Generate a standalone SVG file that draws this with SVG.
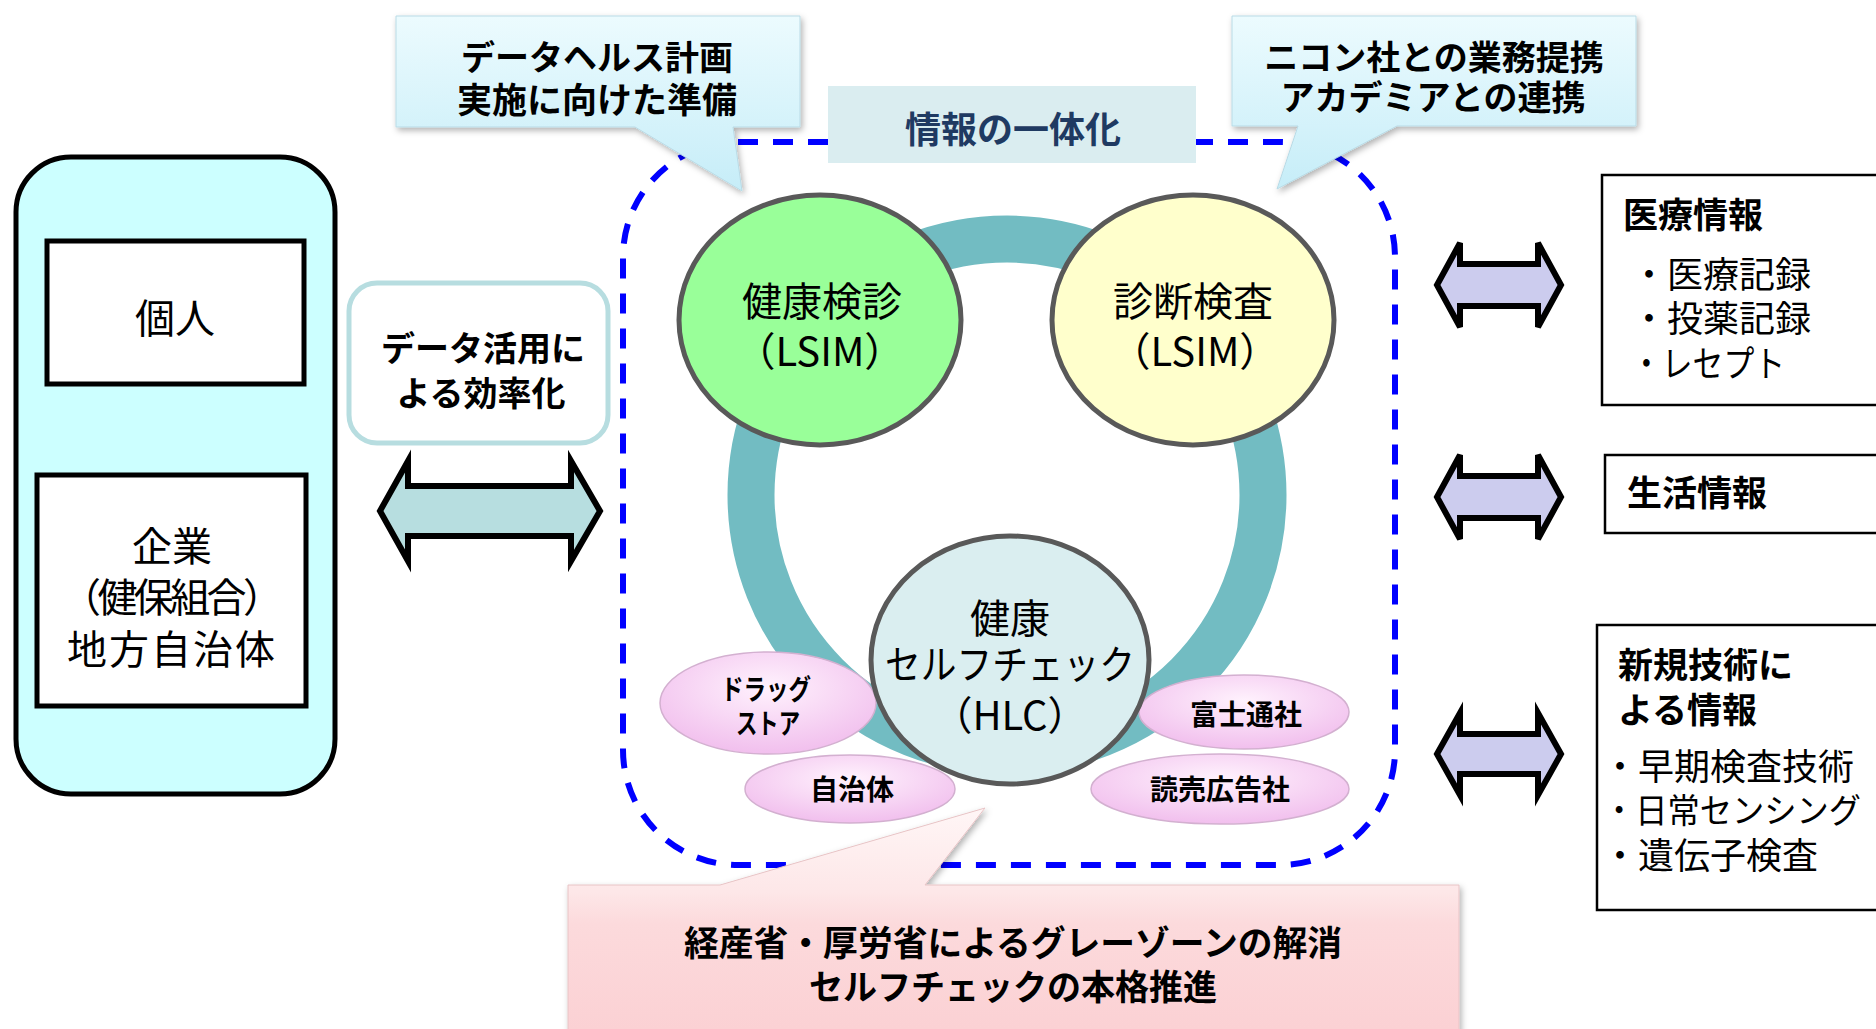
<svg xmlns="http://www.w3.org/2000/svg" width="1876" height="1029" viewBox="0 0 1876 1029">
<defs>
  <linearGradient id="gCallout" x1="0" y1="0" x2="0" y2="1">
    <stop offset="0" stop-color="#ecfbfe"/>
    <stop offset="1" stop-color="#c6edf8"/>
  </linearGradient>
  <linearGradient id="gPink" x1="0" y1="0" x2="0" y2="1">
    <stop offset="0" stop-color="#fff6f6"/>
    <stop offset="0.36" stop-color="#fde7e8"/>
    <stop offset="0.5" stop-color="#fcdadc"/>
    <stop offset="1" stop-color="#fbd0d3"/>
  </linearGradient>
  <radialGradient id="gEll" cx="0.5" cy="0.35" r="0.7">
    <stop offset="0" stop-color="#fff2fd"/>
    <stop offset="1" stop-color="#f0bbec"/>
  </radialGradient>
  <filter id="shadow" x="-10%" y="-10%" width="125%" height="135%">
    <feDropShadow dx="2" dy="3" stdDeviation="3" flood-color="#000" flood-opacity="0.3"/>
  </filter>
  <style>
    text { font-family: "Noto Sans CJK JP", "Noto Sans", sans-serif; fill: #000; dominant-baseline: central; }
    .c { text-anchor: middle; }
    .b { font-weight: bold; }
    .box { fill: #fff; stroke: #000; stroke-width: 5; }
    .rbox { fill: #fff; stroke: #000; stroke-width: 2.5; }
    .big { fill: #99ff99; stroke: #595959; stroke-width: 5; }
    .pink { fill: url(#gEll); stroke: #d3b0d0; stroke-width: 1.5; }
    .callout { fill: url(#gCallout); stroke: #b9dbe6; stroke-width: 1; filter: url(#shadow); }
    .arrowL { fill: #b7dee0; stroke: #000; stroke-width: 6; stroke-linejoin: miter; }
    .arrowR { fill: #ccccee; stroke: #000; stroke-width: 6; stroke-linejoin: miter; }
  </style>
</defs>
<rect width="1876" height="1029" fill="#fff"/>

<!-- integration frame -->
<g id="frame">
  <rect x="623" y="142" width="772" height="723" rx="115" ry="115" fill="none" stroke="#0000ff" stroke-width="6" stroke-dasharray="20 15"/>
</g>

<!-- ring -->
<g id="ring">
  <circle cx="1007" cy="495" r="256" fill="none" stroke="#72bcc2" stroke-width="47"/>
</g>

<!-- left side -->
<g id="stakeholders">
  <rect x="16" y="157" width="319" height="637" rx="55" ry="55" fill="#ccffff" stroke="#000" stroke-width="5"/>
</g>
<g id="node-kojin">
  <rect class="box" x="47" y="241" width="257" height="143"/>
  <text class="c" x="175" y="316" font-size="40">個人</text>
</g>
<g id="node-kigyo">
  <rect class="box" x="37" y="475" width="269" height="231"/>
  <text class="c" font-size="40"><tspan x="172" y="544">企業</tspan><tspan x="172" y="595" textLength="222" lengthAdjust="spacing">（健保組合）</tspan><tspan x="172" y="647" letter-spacing="2">地方自治体</tspan></text>
</g>
<g id="node-efficiency">
  <rect x="349" y="283" width="259" height="160" rx="28" ry="28" fill="#fff" stroke="#b7dde0" stroke-width="5"/>
  <text class="c b" font-size="34"><tspan x="483" y="346">データ活用に</tspan><tspan x="481" y="391">よる効率化</tspan></text>
</g>

<!-- callouts -->
<g id="callout-datahealth">
  <path class="callout" d="M396,16 H800 V127 H733 L742,191 L635,127 H396 Z"/>
  <text class="c b" font-size="34"><tspan x="597" y="55">データヘルス計画</tspan><tspan x="597" y="97" font-size="35">実施に向けた準備</tspan></text>
</g>
<g id="callout-nikon">
  <path class="callout" d="M1232,16 H1636 V126 H1397 L1277,189 L1298,126 H1232 Z"/>
  <text class="c b" font-size="34"><tspan x="1434" y="55">ニコン社との業務提携</tspan><tspan x="1433" y="95">アカデミアとの連携</tspan></text>
</g>
<g id="label-integration">
  <rect x="828" y="86" width="368" height="77" fill="#daedf0"/>
  <text class="c b" x="1013" y="127" font-size="36" style="fill:#1f3a62">情報の一体化</text>
</g>

<!-- center circles -->
<g id="node-kenshin">
  <ellipse class="big" cx="820" cy="320" rx="141" ry="125"/>
  <text class="c" font-size="40"><tspan x="822" y="299">健康検診</tspan><tspan x="820" y="349">（LSIM）</tspan></text>
</g>
<g id="node-shindan">
  <ellipse class="big" cx="1193" cy="320" rx="141" ry="125" style="fill:#ffffcc"/>
  <text class="c" font-size="40"><tspan x="1193" y="299">診断検査</tspan><tspan x="1195" y="349">（LSIM）</tspan></text>
</g>

<g id="node-drugstore">
  <ellipse class="pink" cx="768" cy="703" rx="108" ry="51"/>
  <text class="c b" font-size="28"><tspan x="766" y="688" textLength="90" lengthAdjust="spacingAndGlyphs">ドラッグ</tspan><tspan x="768" y="722" textLength="64" lengthAdjust="spacingAndGlyphs">ストア</tspan></text>
</g>
<g id="node-jichitai">
  <ellipse class="pink" cx="850" cy="789" rx="105" ry="34"/>
  <text class="c b" x="852" y="788" font-size="28">自治体</text>
</g>
<g id="node-fujitsu">
  <ellipse class="pink" cx="1244" cy="712" rx="105" ry="37"/>
  <text class="c b" x="1246" y="713" font-size="28">富士通社</text>
</g>
<g id="node-yomiuri">
  <ellipse class="pink" cx="1220" cy="789" rx="129" ry="35"/>
  <text class="c b" x="1220" y="788" font-size="28">読売広告社</text>
</g>

<g id="node-hlc">
  <ellipse class="big" cx="1010" cy="660" rx="139" ry="124" style="fill:#daeef0"/>
  <text class="c" font-size="40"><tspan x="1010" y="616">健康</tspan><tspan x="1010" y="662" textLength="250" lengthAdjust="spacingAndGlyphs">セルフチェック</tspan><tspan x="1010" y="713">（HLC）</tspan></text>
</g>

<!-- bottom callout -->
<g id="callout-graygone">
  <path d="M568,885 H720 L985,808 L925,885 H1459 V1040 H568 Z" fill="url(#gPink)" stroke="#e8c4c6" stroke-width="1" filter="url(#shadow)"/>
  <text class="c b" font-size="35"><tspan x="1013" y="940" textLength="658" lengthAdjust="spacingAndGlyphs">経産省・厚労省によるグレーゾーンの解消</tspan><tspan x="1013" y="984" textLength="408" lengthAdjust="spacingAndGlyphs">セルフチェックの本格推進</tspan></text>
</g>

<!-- right side -->
<g id="node-medical">
  <rect class="rbox" x="1602" y="175" width="290" height="230"/>
  <text font-size="36"><tspan class="b" x="1623" y="212" font-size="35">医療情報</tspan><tspan x="1631" y="272">・医療記録</tspan><tspan x="1631" y="316">・投薬記録</tspan><tspan x="1631" y="361" textLength="154" lengthAdjust="spacingAndGlyphs">・レセプト</tspan></text>
</g>
<g id="node-life">
  <rect class="rbox" x="1605" y="455" width="290" height="78"/>
  <text class="b" x="1627" y="490" font-size="35">生活情報</text>
</g>
<g id="node-newtech">
  <rect class="rbox" x="1597" y="625" width="295" height="285"/>
  <text font-size="36"><tspan class="b" x="1618" y="662" font-size="35">新規技術に</tspan><tspan class="b" x="1618" y="707" font-size="35">よる情報</tspan><tspan x="1602" y="764">・早期検査技術</tspan><tspan x="1603" y="808" font-size="34" textLength="258" lengthAdjust="spacingAndGlyphs">・日常センシング</tspan><tspan x="1602" y="853">・遺伝子検査</tspan></text>
</g>

<!-- connectors -->
<g id="connectors">
  <path class="arrowL" d="M380,511 L408,461 L408,486 L571,486 L571,461 L600,511 L571,561 L571,536 L408,536 L408,561 Z"/>
  <path class="arrowR" d="M1437,285 L1460,243 L1460,264 L1538,264 L1538,243 L1561,285 L1538,327 L1538,306 L1460,306 L1460,327 Z"/>
  <path class="arrowR" d="M1437,497 L1460,455 L1460,476 L1538,476 L1538,455 L1561,497 L1538,539 L1538,518 L1460,518 L1460,539 Z"/>
  <path class="arrowR" d="M1437,754 L1460,713 L1460,734 L1538,734 L1538,713 L1561,754 L1538,795 L1538,774 L1460,774 L1460,795 Z"/>
</g>
</svg>
